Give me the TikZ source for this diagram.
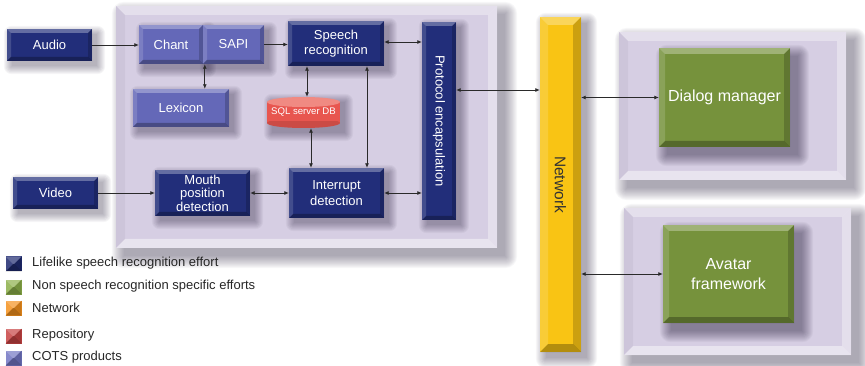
\documentclass[tikz,border=0pt]{standalone}
\usepackage{fontspec}
\setmainfont{Liberation Sans}
\usepackage{graphicx}
\usetikzlibrary{arrows.meta}

\definecolor{navy}{HTML}{222E7A}
\definecolor{cots}{HTML}{6468B8}
\definecolor{panelc}{HTML}{D6CEE3}
\definecolor{greenc}{HTML}{76923C}
\definecolor{netc}{HTML}{F9C414}
\definecolor{sqlred}{HTML}{E8564F}
\definecolor{sqltop}{HTML}{F08A82}
\definecolor{legnavy}{HTML}{1F2A70}
\definecolor{leggreen}{HTML}{8DB04A}
\definecolor{legorange}{HTML}{F5921E}
\definecolor{legred}{HTML}{C84444}
\definecolor{legcots}{HTML}{7276C4}
\definecolor{arrowc}{HTML}{2A2A2A}
\definecolor{shadec}{HTML}{231A38}

\pgfdeclarelayer{pshadow}
\pgfdeclarelayer{panels}
\pgfdeclarelayer{bshadow}
\pgfsetlayers{pshadow,panels,bshadow,main}

% soft drop shadow under a named node: nested translucent rectangles
% #1 node, #2 offset (pt), #3 blur radius (pt), #4 opacity per layer
\newcommand\softshadowof[4]{%
  \foreach \e in {0,...,#3}{%
    \fill[shadec, opacity=#4, rounded corners=\e pt]
      ([xshift=#2pt-\e pt, yshift=-#2pt-\e pt]#1.south west) rectangle
      ([xshift=#2pt+\e pt, yshift=-#2pt+\e pt]#1.north east);
  }}

\tikzset{
  % bevelled face: light top/left rims, dark bottom/right rims
  bevel/.style={path picture={
    \coordinate (bsw) at (path picture bounding box.south west);
    \coordinate (bne) at (path picture bounding box.north east);
    \coordinate (bnw) at (bsw|-bne);
    \coordinate (bse) at (bne|-bsw);
    \fill[white,opacity=.30] (bnw) -- (bne) -- ([xshift=-#1pt,yshift=-#1pt]bne) -- ([xshift=#1pt,yshift=-#1pt]bnw) -- cycle;
    \fill[white,opacity=.15] (bnw) -- (bsw) -- ([xshift=#1pt,yshift=#1pt]bsw) -- ([xshift=#1pt,yshift=-#1pt]bnw) -- cycle;
    \fill[black,opacity=.18] (bne) -- (bse) -- ([xshift=-#1pt,yshift=#1pt]bse) -- ([xshift=-#1pt,yshift=-#1pt]bne) -- cycle;
    \fill[black,opacity=.28] (bsw) -- (bse) -- ([xshift=-#1pt,yshift=#1pt]bse) -- ([xshift=#1pt,yshift=#1pt]bsw) -- cycle;
  }},
  bevel/.default=4,
  % panel rims are lighter on every side
  panelbevel/.style={path picture={
    \coordinate (bsw) at (path picture bounding box.south west);
    \coordinate (bne) at (path picture bounding box.north east);
    \coordinate (bnw) at (bsw|-bne);
    \coordinate (bse) at (bne|-bsw);
    \fill[white,opacity=.35] (bnw) -- (bne) -- ([xshift=-#1pt,yshift=-#1pt]bne) -- ([xshift=#1pt,yshift=-#1pt]bnw) -- cycle;
    \fill[black,opacity=.04] (bnw) -- (bsw) -- ([xshift=#1pt,yshift=#1pt]bsw) -- ([xshift=#1pt,yshift=-#1pt]bnw) -- cycle;
    \fill[white,opacity=.35] (bne) -- (bse) -- ([xshift=-#1pt,yshift=#1pt]bse) -- ([xshift=-#1pt,yshift=-#1pt]bne) -- cycle;
    \fill[white,opacity=.45] (bsw) -- (bse) -- ([xshift=-#1pt,yshift=#1pt]bse) -- ([xshift=#1pt,yshift=#1pt]bsw) -- cycle;
  }},
  box/.style={rectangle, inner sep=0pt, text=white, align=center,
    font=\fontsize{13}{15.5}\selectfont, bevel},
  navybox/.style={box, fill=navy},
  cotsbox/.style={box, fill=cots},
  greenbox/.style={box, fill=greenc, font=\fontsize{16}{20}\selectfont, bevel=6},
  panel/.style={rectangle, inner sep=0pt, fill=panelc, panelbevel=9},
  legsq/.style={rectangle, inner sep=0pt, minimum width=16pt, minimum height=15pt, bevel=7.5},
  legtxt/.style={anchor=west, inner sep=0pt, text=black!85, font=\fontsize{13}{15}\selectfont},
  tip/.tip={Latex[length=4.5pt,width=4pt]},
  sarr/.style={draw=arrowc, line width=0.8pt, -tip},
  darr/.style={draw=arrowc, line width=0.8pt, tip-tip},
}

\begin{document}
\begin{tikzpicture}[x=1pt,y=-1pt]
\useasboundingbox (0,0) rectangle (865,366);

% container panels
\begin{pgfonlayer}{panels}
\node[panel, minimum width=381pt, minimum height=242pt] (core) at (306.5,127) {};
\node[panel, minimum width=227pt, minimum height=148pt] (dlgpanel) at (732.5,106) {};
\node[panel, minimum width=227pt, minimum height=147pt] (avpanel) at (737.5,281.5) {};
\end{pgfonlayer}

% inputs
\node[navybox, minimum width=85pt, minimum height=32pt] (audio) at (49.5,45) {Audio};
\node[navybox, minimum width=85pt, minimum height=32pt] (video) at (55.5,193) {Video};

% commercial components
\node[cotsbox, minimum width=64pt, minimum height=39pt] (chant) at (171,44.5) {Chant};
\node[cotsbox, minimum width=61pt, minimum height=39pt] (sapi) at (233.5,44.5) {SAPI};
\node[cotsbox, minimum width=96pt, minimum height=38pt] (lex) at (181,108) {Lexicon};

% recognition pipeline
\node[navybox, minimum width=96pt, minimum height=45pt] (speech) at (336,43.5) {Speech\\recognition};
\node[navybox, minimum width=95pt, minimum height=50pt] (intr) at (336.5,193) {Interrupt\\detection};
\node[navybox, minimum width=95pt, minimum height=46pt, font=\fontsize{13}{13.5}\selectfont] (mouth) at (202.5,193) {Mouth\\position\\detection};
\node[navybox, minimum width=34pt, minimum height=198pt] (proto) at (439,121) {\rotatebox{-90}{Protocol encapsulation}};

% repository cylinder
\fill[sqlred] (267,102) rectangle (340,123);
\fill[sqlred] (303.5,123) ellipse [x radius=36.5, y radius=5];
\fill[black,opacity=.12] (303.5,123) ellipse [x radius=36.5, y radius=5];
\fill[sqlred] (267,102) rectangle (340,121);
\fill[sqltop] (303.5,102) ellipse [x radius=36.5, y radius=5];
\node[rectangle, inner sep=0pt, minimum width=73pt, minimum height=31pt, text=white,
      font=\fontsize{9.6}{12}\selectfont] (sql) at (303.5,112.5) {\raisebox{2pt}{SQL server DB}};

% network backbone
\node[box, fill=netc, bevel=8, minimum width=41pt, minimum height=335pt, text=black!80,
      font=\fontsize{15.5}{18}\selectfont] (net) at (560.5,184.5) {\rotatebox{-90}{Network}};

% remote components
\node[greenbox, minimum width=131pt, minimum height=99pt] (dialog) at (724.5,97.5) {Dialog manager};
\node[greenbox, minimum width=131pt, minimum height=98pt] (avatar) at (728.5,274) {Avatar\\framework};

% shadows
\begin{pgfonlayer}{pshadow}
\softshadowof{core}{8}{12}{.035}
\softshadowof{dlgpanel}{8}{12}{.035}
\softshadowof{avpanel}{8}{12}{.035}
\end{pgfonlayer}
\begin{pgfonlayer}{bshadow}
\foreach \n in {audio,video,chant,sapi,lex,speech,intr,mouth,proto,sql}{\softshadowof{\n}{5}{8}{.045}}
\softshadowof{net}{6}{10}{.04}
\softshadowof{dialog}{8}{11}{.045}
\softshadowof{avatar}{8}{11}{.045}
\end{pgfonlayer}

% connectors
\draw[sarr] (audio.east) -- (chant.west |- audio.east);
\draw[sarr] (sapi.east) -- (speech.west |- sapi.east);
\path ([xshift=2pt]sapi.south west) coordinate (c1);
\draw[darr] (c1) -- (c1 |- lex.north);
\path ([yshift=1.5pt]speech.east) coordinate (c2);
\draw[darr] (c2) -- (c2 -| proto.west);
\path ([xshift=3.5pt]sql.north) coordinate (c3);
\draw[darr] (c3 |- speech.south) -- (c3);
\path ([xshift=7.5pt]sql.south) coordinate (c4);
\draw[darr] (c4) -- (c4 |- intr.north);
\path ([xshift=31pt]speech.south) coordinate (c5);
\draw[darr] (c5) -- (c5 |- intr.north);
\draw[sarr] (video.east) -- (mouth.west);
\draw[darr] (mouth.east) -- (intr.west);
\draw[darr] (intr.east) -- (intr.east -| proto.west);
\path ([yshift=31pt]proto.east) coordinate (c6);
\draw[darr] (c6) -- (c6 -| net.west);
\draw[darr] (dialog.west -| net.east) -- (dialog.west);
\draw[darr] (avatar.west -| net.east) -- (avatar.west);

% legend
\node[legsq, fill=legnavy] (k1) at (13.5,264) {};
\node[legsq, fill=leggreen] (k2) at (13.5,287) {};
\node[legsq, fill=legorange] (k3) at (13.5,308) {};
\node[legsq, fill=legred] (k4) at (13.5,336) {};
\node[legsq, fill=legcots] (k5) at (13.5,358) {};
\node[legtxt] (t1) at (32,263) {Lifelike speech recognition effort};
\node[legtxt] (t2) at (32,286) {Non speech recognition specific efforts};
\node[legtxt] (t3) at (32,308) {Network};
\node[legtxt] (t4) at (32,335) {Repository};
\node[legtxt] (t5) at (32,357) {COTS products};
\end{tikzpicture}
\end{document}
